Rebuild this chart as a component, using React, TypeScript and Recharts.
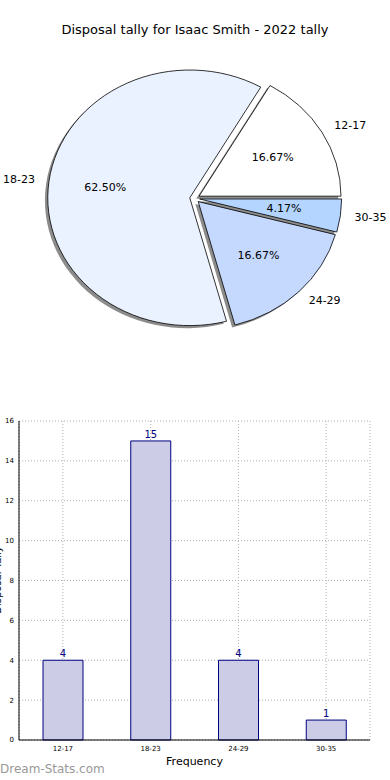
import React from "react";
import {
  PieChart,
  Pie,
  Cell,
  BarChart,
  Bar,
  XAxis,
  YAxis,
  CartesianGrid,
  LabelList,
} from "recharts";

const categories = ["12-17", "18-23", "24-29", "30-35"];
const tallies = [4, 15, 4, 1];
const sliceColors = ["#ffffff", "#ebf2ff", "#c5d9ff", "#b3d5ff"];
const yTicks = [0, 2, 4, 6, 8, 10, 12, 14, 16];

const data = categories.map((c, i) => ({ name: c, value: tallies[i] }));

const RAD = Math.PI / 180;
const SQUASH = 0.9; // matplotlib pie drawn on non-equal axes -> ellipse
const EXPLODE = 0.035;

const pt = (cx: number, cy: number, rx: number, ry: number, deg: number) => [
  cx + rx * Math.cos(deg * RAD),
  cy - ry * Math.sin(deg * RAD),
];

const wedgePath = (cx: number, cy: number, rx: number, ry: number, a0: number, a1: number) => {
  const [x0, y0] = pt(cx, cy, rx, ry, a0);
  const [x1, y1] = pt(cx, cy, rx, ry, a1);
  const large = Math.abs(a1 - a0) > 180 ? 1 : 0;
  return `M${cx},${cy} L${x0},${y0} A${rx},${ry} 0 ${large} 0 ${x1},${y1} Z`;
};

const EllipseSlice = (props: any) => {
  const { cx, cy, outerRadius, startAngle, endAngle, fill } = props;
  const rx = outerRadius;
  const ry = outerRadius * SQUASH;
  const mid = (startAngle + endAngle) / 2;
  const ox = cx + EXPLODE * rx * Math.cos(mid * RAD);
  const oy = cy - EXPLODE * ry * Math.sin(mid * RAD);
  return (
    <g>
      <path
        d={wedgePath(ox - 0.02 * rx, oy + 0.02 * ry, rx, ry, startAngle, endAngle)}
        fill="#000"
        fillOpacity={0.45}
        stroke="none"
      />
      <path
        d={wedgePath(ox, oy, rx, ry, startAngle, endAngle)}
        fill={fill}
        stroke="#000"
        strokeWidth={0.8}
      />
    </g>
  );
};

const sliceLabel = (props: any) => {
  const { cx, cy, outerRadius, midAngle, name, percent } = props;
  const rx = outerRadius;
  const ry = outerRadius * SQUASH;
  const ox = cx + EXPLODE * rx * Math.cos(midAngle * RAD);
  const oy = cy - EXPLODE * ry * Math.sin(midAngle * RAD);
  const [lx, ly] = pt(ox, oy, rx * 1.1, ry * 1.1, midAngle);
  const [px, py] = pt(ox, oy, rx * 0.6, ry * 0.6, midAngle);
  const right = Math.cos(midAngle * RAD) >= 0;
  return (
    <g>
      <text x={lx} y={ly} textAnchor={right ? "start" : "end"} dominantBaseline="central" fontSize={11} fill="#000">
        {name}
      </text>
      <text x={px} y={py} textAnchor="middle" dominantBaseline="central" fontSize={11} fill="#000">
        {(percent * 100).toFixed(2)}%
      </text>
    </g>
  );
};

export default function App() {
  return (
    <div
      style={{
        position: "absolute",
        left: 0,
        top: 0,
        width: 390,
        height: 780,
        background: "#fff",
        fontFamily: "DejaVu Sans, sans-serif",
        overflow: "hidden",
      }}
    >
      <div style={{ position: "absolute", top: 22, width: 390, textAlign: "center", fontSize: 13, color: "#000" }}>
        Disposal tally for Isaac Smith - 2022 tally
      </div>
      <div style={{ position: "absolute", top: 0, left: 0 }}>
        <PieChart width={390} height={400} margin={{ top: 0, right: 0, bottom: 0, left: 0 }}>
          <Pie
            data={data}
            dataKey="value"
            nameKey="name"
            cx={194.7}
            cy={198.4}
            outerRadius={142}
            startAngle={0}
            endAngle={360}
            paddingAngle={0}
            shape={EllipseSlice}
            activeShape={EllipseSlice}
            inactiveShape={EllipseSlice}
            label={sliceLabel}
            labelLine={false}
            isAnimationActive={false}
          >
            {data.map((d, i) => (
              <Cell key={d.name} fill={sliceColors[i]} />
            ))}
          </Pie>
        </PieChart>
      </div>
      <div style={{ position: "absolute", top: 400, left: 0 }}>
        <BarChart width={390} height={380} data={data} margin={{ top: 21, right: 20, left: 0, bottom: 0 }}>
          <CartesianGrid stroke="#b0b0b0" strokeDasharray="1 2" />
          <XAxis
            dataKey="name"
            tick={{ fontSize: 7, fill: "#000" }}
            tickLine={false}
            tickSize={4}
            axisLine={{ stroke: "#000" }}
            height={40}
            label={{ value: "Frequency", position: "insideBottom", offset: 15, fontSize: 11, fill: "#000" }}
          />
          <XAxis xAxisId="top" orientation="top" dataKey="name" tick={false} tickLine={false} height={0} axisLine={{ stroke: "#000" }} />
          <YAxis
            domain={[0, 16]}
            ticks={yTicks}
            tick={{ fontSize: 7, fill: "#000" }}
            tickLine={false}
            tickSize={3}
            width={19}
            axisLine={{ stroke: "#000" }}
            label={{
              content: () => (
                <text x={-3} y={180} transform="rotate(-90 -3 180)" textAnchor="middle" dominantBaseline="central" fontSize={10} fill="#000">
                  Disposal Tally
                </text>
              ),
            }}
          />
          <YAxis yAxisId="r" orientation="right" domain={[0, 16]} tick={false} tickLine={false} width={0} axisLine={{ stroke: "#000" }} />
          <Bar dataKey="value" fill="#cccce6" stroke="#000080" strokeWidth={1} barSize={40} isAnimationActive={false}>
            <LabelList dataKey="value" position="top" offset={3} fontSize={10} fill="#000080" />
          </Bar>
        </BarChart>
      </div>
      <div style={{ position: "absolute", left: 0, top: 762, fontSize: 12, color: "#999" }}>
        Dream-Stats.com
      </div>
    </div>
  );
}
